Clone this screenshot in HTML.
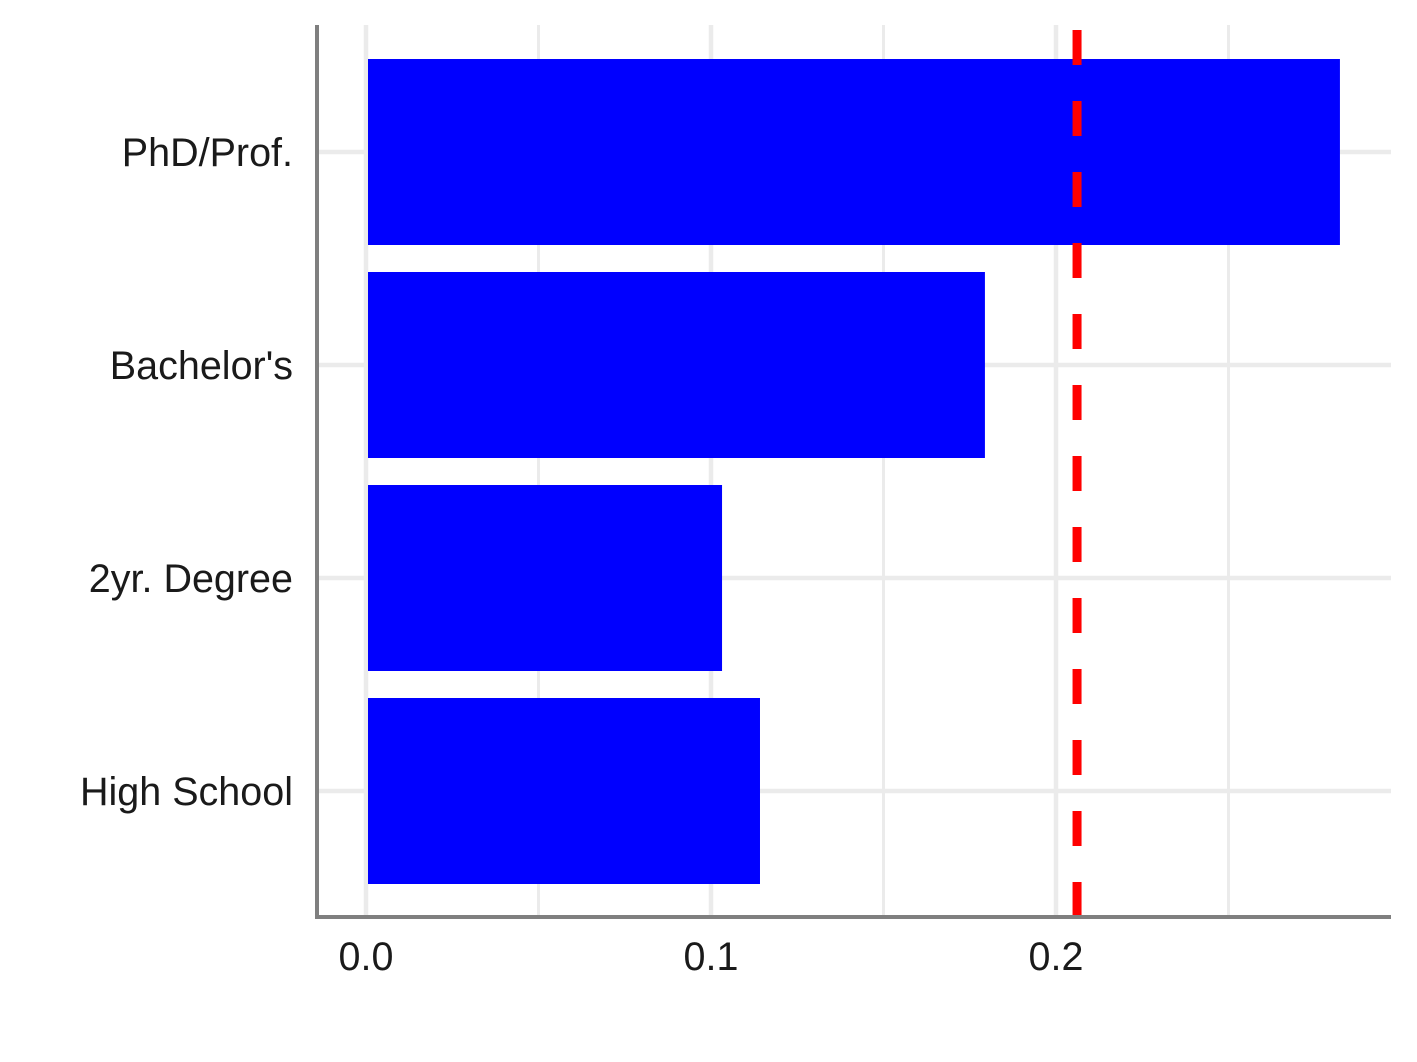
<!DOCTYPE html>
<html><head><meta charset="utf-8"><style>body{margin:0;background:#fff}svg{display:block}text{font-family:"Liberation Sans",Arial,sans-serif;fill:#1a1a1a}</style></head>
<body>
<svg id="chart" width="1417" height="1062" viewBox="0 0 1417 1062" xmlns="http://www.w3.org/2000/svg"></svg>
<script>
const categories = ["PhD/Prof.", "Bachelor's", "2yr. Degree", "High School"];
const values = [0.2823, 0.1794, 0.1032, 0.1142];
const refValue = 0.2061;
const xTicks = [0, 0.1, 0.2];
const xTickLabels = ["0.0", "0.1", "0.2"];
const xMinor = [0.05, 0.15, 0.25];

const NS = "http://www.w3.org/2000/svg";
const svg = document.getElementById('chart');
const x = v => 366 + v * 3450;
const yC = i => 152 + i * 213;
const barH = 186;
function mk(tag, attrs, parent) {
  const e = document.createElementNS(NS, tag);
  for (const k in attrs) e.setAttribute(k, attrs[k]);
  (parent || svg).appendChild(e);
  return e;
}
xMinor.forEach(v => {
  const l = mk('line', {x1: x(v), x2: x(v), y1: 25, y2: 915, stroke: '#ebebeb', 'stroke-width': 3});
  
  
});
xTicks.forEach(v => {
  const l = mk('line', {x1: x(v), x2: x(v), y1: 25, y2: 915, stroke: '#ebebeb', 'stroke-width': 4.5});
  
  
});
categories.forEach((c, i) => {
  const l = mk('line', {x1: 319, x2: 1391, y1: yC(i), y2: yC(i), stroke: '#ebebeb', 'stroke-width': 4.5});
  
  
});
categories.forEach((c, i) => {
  const r = mk('rect', {x: x(0) + 2, y: yC(i) - barH / 2, width: x(values[i]) - x(0) - 2, height: barH, fill: '#0000ff'});
  
  
  const t = mk('text', {x: 293, y: yC(i) + 14, 'text-anchor': 'end', 'font-size': 39.5});
  t.textContent = c;
  
  
});
const ref = mk('line', {x1: x(refValue), x2: x(refValue), y1: 30, y2: 917, stroke: '#ff0000', 'stroke-width': 9, 'stroke-dasharray': '35 36'});


xTicks.forEach((v, i) => {
  const t = mk('text', {x: x(v), y: 970, 'text-anchor': 'middle', 'font-size': 39.5});
  t.textContent = xTickLabels[i];
  
  
});
const ya = mk('line', {x1: 317, x2: 317, y1: 25, y2: 919, stroke: '#7f7f7f', 'stroke-width': 4});


const xa = mk('line', {x1: 315, x2: 1391, y1: 917, y2: 917, stroke: '#7f7f7f', 'stroke-width': 4});


</script>
</body></html>
